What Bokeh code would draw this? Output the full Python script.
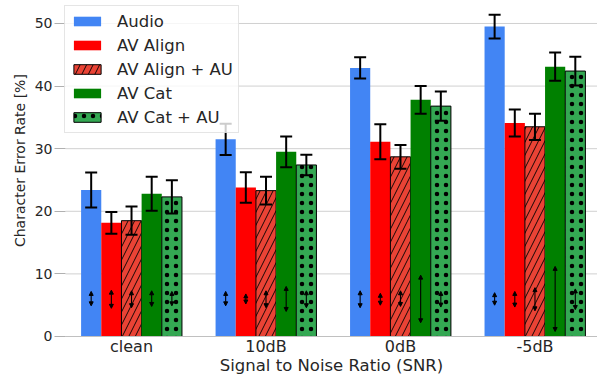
import numpy as np
from bokeh.plotting import figure
from bokeh.models import (ColumnDataSource, Whisker, TeeHead, Arrow, NormalHead,
                          Range1d, FixedTicker, Legend, LegendItem, Label)
from bokeh.embed import file_html
from bokeh.resources import INLINE

categories = ["clean", "10dB", "0dB", "-5dB"]
series = ["Audio", "AV Align", "AV Align + AU", "AV Cat", "AV Cat + AU"]

audio = [23.4, 31.5, 42.9, 49.5]
audio_err = [2.8, 2.5, 1.7, 1.9]
av_align = [18.15, 23.8, 31.1, 34.1]
av_align_err = [1.75, 2.45, 2.8, 2.15]
av_align_au = [18.5, 23.3, 28.7, 33.5]
av_align_au_err = [2.25, 2.2, 1.9, 2.1]
av_cat = [22.8, 29.5, 37.8, 43.1]
av_cat_err = [2.7, 2.45, 2.2, 2.25]
av_cat_au = [22.3, 27.4, 36.8, 42.4]
av_cat_au_err = [2.65, 1.65, 2.35, 2.3]

# small double-arrow indicators (low, high)
audio_arrow_lo = [4.9, 4.9, 4.6, 5.0]
audio_arrow_hi = [7.2, 7.2, 7.3, 7.0]
av_align_arrow_lo = [4.5, 5.2, 5.0, 4.7]
av_align_arrow_hi = [7.4, 6.8, 6.9, 7.2]
av_align_au_arrow_lo = [4.6, 4.6, 4.8, 4.1]
av_align_au_arrow_hi = [7.3, 7.3, 7.3, 7.8]
av_cat_arrow_lo = [4.8, 4.0, 2.2, 0.8]
av_cat_arrow_hi = [7.3, 8.0, 9.8, 11.2]
av_cat_au_arrow_lo = [4.9, 4.6, 4.7, 4.3]
av_cat_au_arrow_hi = [7.2, 7.3, 7.2, 7.6]

yticks = [0, 10, 20, 30, 40, 50]
x_title = "Signal to Noise Ratio (SNR)"
y_title = "Character Error Rate [%]"

means = [audio, av_align, av_align_au, av_cat, av_cat_au]
errs = [audio_err, av_align_err, av_align_au_err, av_cat_err, av_cat_au_err]
arr_lo = [audio_arrow_lo, av_align_arrow_lo, av_align_au_arrow_lo, av_cat_arrow_lo, av_cat_au_arrow_lo]
arr_hi = [audio_arrow_hi, av_align_arrow_hi, av_align_au_arrow_hi, av_cat_arrow_hi, av_cat_au_arrow_hi]

colors = ["#4285F4", "#FF0000", "#EA4335", "#008000", "#34A853"]
hatches = [None, None, "/", None, "."]
bar_w = 0.15
offsets = [-0.3, -0.15, 0.0, 0.15, 0.3]

FONT = "DejaVu Sans"
TXT = "#262626"

W, H = 597, 375
X0, X1 = -0.9743, 3.465      # full canvas in data units
PLOT_X0 = -0.491             # left edge of the bar area
Y0, Y1 = -6.23, 53.67

p = figure(width=W, height=H, output_backend="svg", toolbar_location=None,
           x_range=Range1d(X0, X1), y_range=Range1d(Y0, Y1),
           min_border_left=0, min_border_right=0, min_border_top=0,
           min_border_bottom=0)
p.outline_line_color = None
p.xgrid.grid_line_color = None
p.ygrid.grid_line_color = None

# horizontal grid lines over the bar area only
p.segment(x0=[PLOT_X0] * len(yticks), x1=[X1] * len(yticks), y0=yticks, y1=yticks,
          line_color="#d0d0d0", line_width=1)

items = []
base = np.arange(len(categories))
for i, name in enumerate(series):
    x = base + offsets[i]
    src = ColumnDataSource(dict(x=x, top=means[i],
                                upper=np.array(means[i]) + np.array(errs[i]),
                                lower=np.array(means[i]) - np.array(errs[i]),
                                lo=arr_lo[i], hi=arr_hi[i]))
    kw = dict(x="x", top="top", width=bar_w, bottom=0, fill_color=colors[i], source=src)
    if hatches[i]:
        kw.update(line_color="black", line_width=1, hatch_pattern=hatches[i],
                  hatch_color="black", hatch_weight=0.9 if hatches[i] == "/" else 1.0,
                  hatch_scale=13 if hatches[i] == "/" else 9)
    else:
        kw.update(line_color=None)
    r = p.vbar(**kw)
    items.append(LegendItem(label=name, renderers=[r]))

    w = Whisker(source=src, base="x", upper="upper", lower="lower",
                line_color="black", line_width=2, level="annotation",
                upper_head=TeeHead(size=12, line_color="black", line_width=2),
                lower_head=TeeHead(size=12, line_color="black", line_width=2))
    p.add_layout(w)
    a = Arrow(source=src, x_start="x", x_end="x", y_start="lo", y_end="hi",
              line_color="black", line_width=1.1, level="annotation",
              start=NormalHead(size=4, fill_color="black", line_color="black", line_width=1),
              end=NormalHead(size=4, fill_color="black", line_color="black", line_width=1))
    p.add_layout(a)

legend = Legend(items=items, location=(64, H - 7 - 126), margin=0, padding=5,
                spacing=4, label_standoff=13, glyph_width=34, glyph_height=12,
                label_height=20, label_text_font=FONT, label_text_font_size="16.5px",
                label_text_color=TXT, border_line_color="#cccccc",
                background_fill_color="white", background_fill_alpha=0.8,
                level="overlay")
p.add_layout(legend)

# x axis sits at y = 0 inside the frame
p.xaxis.fixed_location = 0
p.xaxis.bounds = (PLOT_X0, X1)
p.xaxis.ticker = FixedTicker(ticks=list(base))
p.xaxis.major_label_overrides = {int(k): c for k, c in zip(base, categories)}
p.xaxis.major_tick_line_color = None
p.xaxis.major_tick_out = 0
p.xaxis.major_tick_in = 0
p.xaxis.minor_tick_line_color = None
p.xaxis.axis_line_color = "#c0c0c0"
p.xaxis.axis_line_width = 1.2
p.xaxis.major_label_standoff = 1
p.xaxis.major_label_text_font_size = "16px"

# y axis at the left edge of the bar area
p.yaxis.fixed_location = PLOT_X0
p.yaxis.ticker = FixedTicker(ticks=yticks)
p.yaxis.axis_line_color = None
p.yaxis.major_tick_line_color = "#b0b0b0"
p.yaxis.major_tick_out = 11
p.yaxis.major_tick_in = 0
p.yaxis.minor_tick_line_color = None
p.yaxis.major_label_standoff = 2
p.yaxis.major_label_text_font_size = "14px"

for ax in (p.xaxis, p.yaxis):
    ax.major_label_text_font = FONT
    ax.major_label_text_color = TXT

p.add_layout(Label(x=1.487, y=-4.63, text=x_title, text_font=FONT,
                   text_font_size="16.5px", text_color=TXT,
                   text_align="center", text_baseline="middle", level="overlay"))
p.add_layout(Label(x=-0.8256, y=28.1, text=y_title, text_font=FONT,
                   text_font_size="14px", text_color=TXT, angle=np.pi / 2,
                   text_align="center", text_baseline="middle", level="overlay"))

open("out.html", "w").write(file_html(p, INLINE))
